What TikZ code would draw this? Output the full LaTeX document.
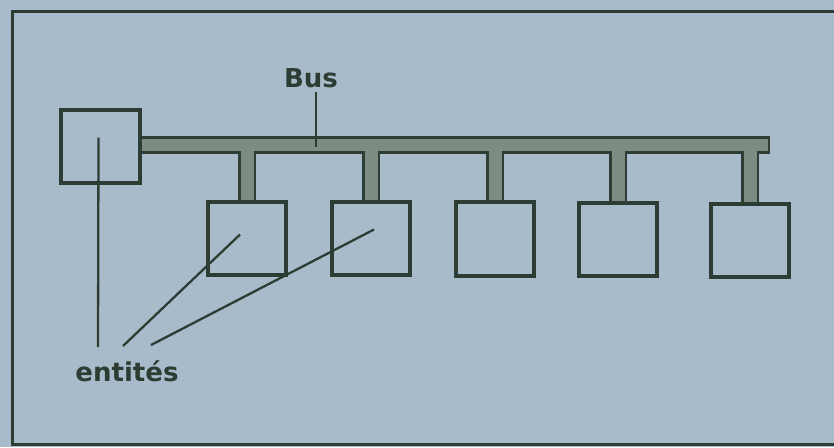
\documentclass[tikz,border=0pt]{standalone}
\usepackage{fontspec}
\setmainfont{DejaVu Sans}
\definecolor{paper}{HTML}{A8BBCA}
\definecolor{ink}{HTML}{2E3D33}
\definecolor{busfill}{HTML}{7D8C82}
\begin{document}
\begin{tikzpicture}[x=1pt,y=-1pt,
  entity/.style={draw=ink, line width=2.6pt, minimum width=77pt, minimum height=72pt, inner sep=0pt},
  busout/.style={ink, line width=18pt},
  busin/.style={busfill, line width=13pt},
  leader/.style={ink, line width=2.3pt},
  lbl/.style={text=ink, font=\fontsize{26}{28}\selectfont\bfseries, inner sep=0pt}]
\fill[paper] (0,0) rectangle (834,447);
\useasboundingbox (0,0) rectangle (834,447);
% frame
\draw[ink, line width=3pt] (850,11) -- (12,11) -- (12,444) -- (850,444);
% coordinates
\coordinate (busL) at (139,144.5);
\coordinate (busR) at (770,144.5);
\coordinate (busRi) at (767.5,144.5);
\node[entity, minimum height=71pt] (e0) at (100.5,146.5) {};
\node[entity] (e1) at (247,238.5) {};
\node[entity] (e2) at (371,238.5) {};
\node[entity] (e3) at (495,239) {};
\node[entity] (e4) at (618,239.5) {};
\node[entity] (e5) at (750,240.5) {};
\foreach \i in {1,...,5}{\coordinate (s\i) at (busL -| e\i.north);}
% bus outline pass
\draw[busout] (busL) -- (busR);
\foreach \i in {1,...,5}{\draw[busout] (s\i) -- (e\i.north);}
% bus fill pass
\draw[busin, line width=12pt] (busL) -- (busRi);
\foreach \i in {1,...,5}{\draw[busin] (s\i) -- ([yshift=-1pt]e\i.north);}
% redraw entities on top
\foreach \n in {e0,e1,e2,e3,e4,e5}{\draw[ink, line width=2.6pt] (\n.north west) rectangle (\n.south east);}
% labels
\node[lbl, anchor=base] (bus) at (311,87) {Bus};
\coordinate (bustick) at (316,147);
\draw[leader, line width=2pt] (316,92) -- (bustick);
\node[lbl, anchor=base] (ent) at (127,381) {entités};
\coordinate (l0) at (98,347);
\coordinate (l1) at (123,346);
\coordinate (l2) at (151,345);
\draw[leader] ([xshift=-2pt,yshift=9pt]e0.center) -- (l0);
\draw[leader] ([xshift=-7pt,yshift=4pt]e1.center) -- (l1);
\draw[leader] ([xshift=3pt,yshift=9pt]e2.center) -- (l2);
\end{tikzpicture}
\end{document}
